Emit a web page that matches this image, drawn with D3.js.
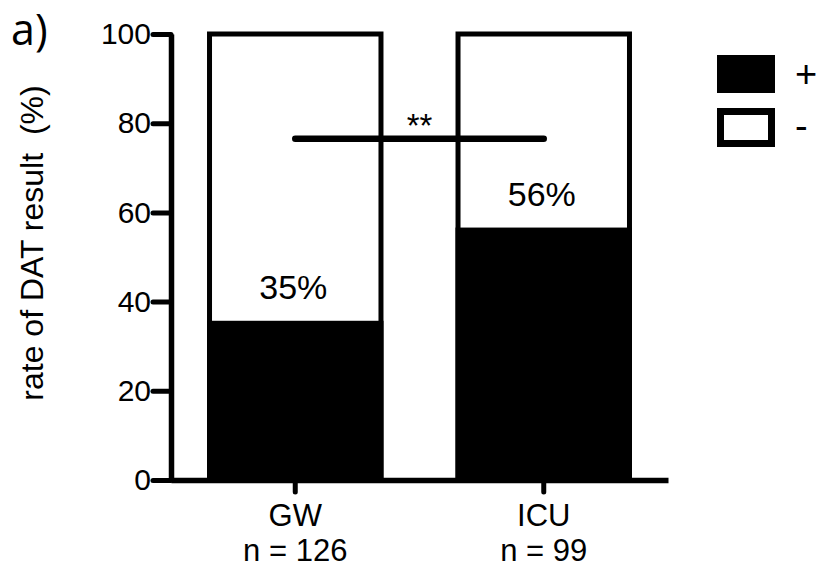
<!DOCTYPE html>
<html>
<head>
<meta charset="utf-8">
<script src="https://cdn.jsdelivr.net/npm/d3@7"></script>
<style>
  body { margin: 0; background: #fff; }
  text { font-family: "Liberation Sans", Arial, sans-serif; fill: #000; }
</style>
</head>
<body>
<svg id="chart" width="817" height="567"></svg>
<script>
// data
var groups = ["GW", "ICU"];
var groupN = [126, 99];
var positiveRate = [35.7, 56.6];   // black part of each bar (%)
var rateLabels = ["35%", "56%"];
var yTicks = [0, 20, 40, 60, 80, 100];
var legendLabels = ["+", "-"];
var sigLevel = 76.5, sigText = "**";

var svg = d3.select("#chart");

// set the ranges
var x = d3.scaleBand().domain(groups).range([171, 668])
    .paddingInner(0.31).paddingOuter(0.155);
var y = d3.scaleLinear().domain([0, 100]).range([480, 34]);

var data = groups.map(function(g, i) {
    return {group: g, n: groupN[i], pos: positiveRate[i], label: rateLabels[i]};
});

// white (negative) part: full 100% box with outline
svg.selectAll(".bar-bg")
    .data(data)
    .enter().append("rect")
    .attr("class", "bar-bg")
    .attr("x", function(d) { return x(d.group); })
    .attr("y", y(100))
    .attr("width", x.bandwidth())
    .attr("height", y(0) - y(100))
    .attr("fill", "#fff")
    .attr("stroke", "#000")
    .attr("stroke-width", 5);

// black (positive) part
svg.selectAll(".bar-pos")
    .data(data)
    .enter().append("rect")
    .attr("class", "bar-pos")
    .attr("x", function(d) { return x(d.group) - 2.5; })
    .attr("y", function(d) { return y(d.pos); })
    .attr("width", x.bandwidth() + 5)
    .attr("height", function(d) { return y(0) - y(d.pos); })
    .attr("fill", "#000");

// percentage labels
svg.selectAll(".pct")
    .data(data)
    .enter().append("text")
    .attr("class", "pct")
    .attr("x", function(d) { return x(d.group) + x.bandwidth() / 2 - 2; })
    .attr("y", function(d) { return y(d.pos) - 22; })
    .attr("text-anchor", "middle")
    .style("font-size", "34px")
    .text(function(d) { return d.label; });

// significance bar
svg.append("line")
    .attr("x1", x(groups[0]) + x.bandwidth() / 2)
    .attr("x2", x(groups[1]) + x.bandwidth() / 2)
    .attr("y1", y(sigLevel))
    .attr("y2", y(sigLevel))
    .attr("stroke", "#000")
    .attr("stroke-width", 6.5)
    .attr("stroke-linecap", "round");

svg.append("text")
    .attr("x", (x(groups[0]) + x(groups[1]) + x.bandwidth()) / 2)
    .attr("y", y(sigLevel) - 2)
    .attr("text-anchor", "middle")
    .style("font-size", "33px")
    .text(sigText);

// Y axis
var yAxis = svg.append("g")
    .attr("transform", "translate(171,0)")
    .call(d3.axisLeft(y).tickValues(yTicks).tickSize(18).tickSizeOuter(0).tickPadding(2));
yAxis.select(".domain").attr("stroke-width", 5.5);
yAxis.selectAll(".tick line").attr("stroke-width", 5).attr("stroke-linecap", "round");
yAxis.selectAll(".tick text")
    .style("font-size", "30px")
    .style("font-family", "'Liberation Sans', Arial, sans-serif")
    .attr("fill", "#000");

// X axis
var xAxis = svg.append("g")
    .attr("transform", "translate(0,480)")
    .call(d3.axisBottom(x).tickSize(12).tickSizeOuter(0).tickPadding(4));
xAxis.select(".domain").attr("stroke-width", 5.5);
xAxis.selectAll(".tick line").attr("stroke-width", 5).attr("stroke-linecap", "round");
xAxis.selectAll(".tick text").remove();
xAxis.selectAll(".tick").each(function(g, i) {
    var t = d3.select(this).append("text")
        .attr("text-anchor", "middle")
        .attr("fill", "#000")
        .style("font-size", "31px")
        .style("font-family", "'Liberation Sans', Arial, sans-serif");
    t.append("tspan").attr("x", 0).attr("y", 46).text(g);
    t.append("tspan").attr("x", 0).attr("y", 81).text("n = " + groupN[i]);
});

// Y axis title
svg.append("text")
    .attr("transform", "translate(43,243) rotate(-90)")
    .attr("text-anchor", "middle")
    .style("font-size", "32px")
    .style("white-space", "pre")
    .text("rate of DAT result  (%)");

// panel label
svg.append("text")
    .attr("x", 11)
    .attr("y", 45)
    .style("font-family", "'Open Sans', sans-serif")
    .style("font-size", "43px")
    .text("a)");

// legend
var legend = svg.append("g");
legend.append("rect")
    .attr("x", 717).attr("y", 55).attr("width", 58).attr("height", 38)
    .attr("fill", "#000");
legend.append("rect")
    .attr("x", 720.5).attr("y", 111.5).attr("width", 51).attr("height", 32)
    .attr("fill", "#fff").attr("stroke", "#000").attr("stroke-width", 7);
legend.selectAll(".lg")
    .data(legendLabels)
    .enter().append("text")
    .attr("class", "lg")
    .attr("x", 795)
    .attr("y", function(d, i) { return i === 0 ? 87 : 139; })
    .style("font-size", "38px")
    .text(function(d) { return d; });
</script>
</body>
</html>
